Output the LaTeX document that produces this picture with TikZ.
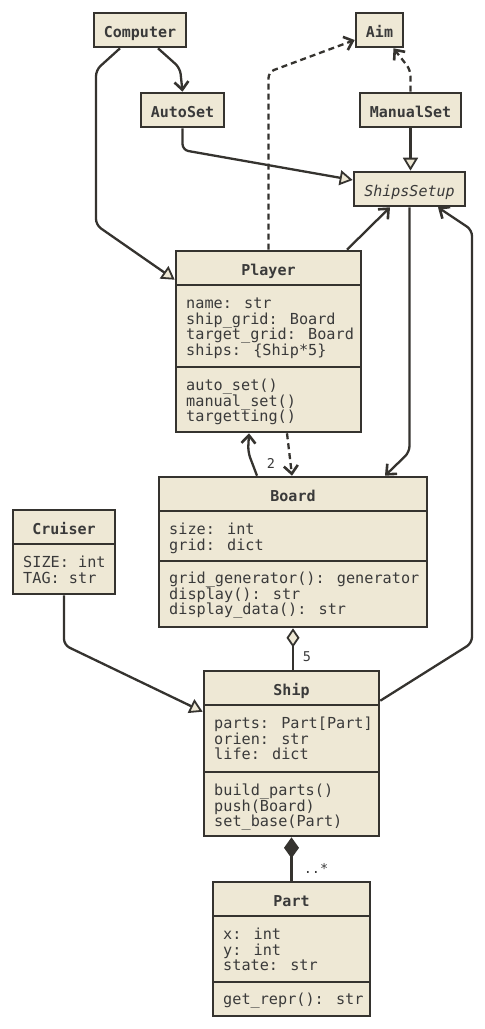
\documentclass[tikz,border=0pt]{standalone}
\usepackage{fontspec}
\usetikzlibrary{arrows.meta,calc}
\newfontfamily\umono{DejaVu Sans Mono}
\definecolor{fillc}{HTML}{EEE8D5}
\definecolor{linec}{HTML}{35332F}
\definecolor{textc}{HTML}{3A3A3A}
\tikzset{
  box/.style={draw=linec, fill=fillc, line width=2.6pt, inner sep=0pt},
  simple/.style={box, minimum height=34pt, text=textc, text height=14pt, text depth=0pt,
    font=\umono\fontsize{15}{15.8}\selectfont\bfseries},
  hdr/.style={anchor=base, inner sep=0pt, text=textc, font=\umono\fontsize{15}{15.8}\selectfont\bfseries},
  attr/.style={anchor=north west, inner sep=0pt, align=left, text=textc, font=\umono\fontsize{15.2}{15.8}\selectfont},
  sep/.style={draw=linec, line width=2.6pt},
  conn/.style={draw=linec, line width=2.3pt, rounded corners=6pt},
  dashconn/.style={conn, dash pattern=on 6pt off 4pt},
  stick/.style={-{Straight Barb[length=8pt,width=14pt,line width=2.6pt]}},
  inherit/.style={-{Triangle[open,fill=fillc,length=13pt,width=15pt,line width=1.8pt]}},
  aggr/.style={{Diamond[open,fill=fillc,length=19pt,width=13pt,line width=1.8pt]}-},
  comp/.style={{Diamond[fill=linec,length=21pt,width=15pt]}-},
  mult/.style={inner sep=0pt, text=textc, font=\umono\fontsize{13.5}{15}\selectfont},
}
\begin{document}
\begin{tikzpicture}[x=1pt,y=-1pt]
\useasboundingbox (0,0) rectangle (485,1029);

% simple boxes
\node[simple, minimum width=92pt] (computer) at (140,30) {Computer};
\node[simple, minimum width=47pt] (aim) at (379.5,30) {Aim};
\node[simple, minimum width=83pt] (autoset) at (182.5,110) {AutoSet};
\node[simple, minimum width=101pt] (manualset) at (410.5,110) {ManualSet};
\node[simple, minimum width=111pt, font=\umono\fontsize{15}{15.8}\selectfont\itshape] (shipssetup) at (409.5,189) {ShipsSetup};

% Player
\node[box, minimum width=185pt, minimum height=181pt] (player) at (268.5,341.5) {};
\draw[sep] (176,285) -- (361,285);
\draw[sep] (176,367) -- (361,367);
\node[hdr] (playerhdr) at (268.5,275) {Player};
\node[attr] (playerattr) at (186,296) {\rule{0pt}{12pt}name: str\\ship\_grid: Board\\target\_grid: Board\\ships: \{Ship*5\}};
\node[attr] (playermeth) at (186,378) {\rule{0pt}{12pt}auto\_set()\\manual\_set()\\targetting()};

% Board
\node[box, minimum width=268pt, minimum height=150pt] (board) at (293,552) {};
\draw[sep] (159,511) -- (427,511);
\draw[sep] (159,561) -- (427,561);
\node[hdr] (boardhdr) at (293,501) {Board};
\node[attr] (boardattr) at (169,522) {\rule{0pt}{12pt}size: int\\grid: dict};
\node[attr] (boardmeth) at (169,571) {\rule{0pt}{12pt}grid\_generator(): generator\\display(): str\\display\_data(): str};

% Cruiser
\node[box, minimum width=102pt, minimum height=84pt] (cruiser) at (64,552) {};
\draw[sep] (13,544) -- (115,544);
\node[hdr] (cruiserhdr) at (64,534) {Cruiser};
\node[attr] (cruiserattr) at (23,555) {\rule{0pt}{12pt}SIZE: int\\TAG: str};

% Ship
\node[box, minimum width=175pt, minimum height=165pt] (ship) at (291.5,753.5) {};
\draw[sep] (204,705) -- (379,705);
\draw[sep] (204,772) -- (379,772);
\node[hdr] (shiphdr) at (291.5,695) {Ship};
\node[attr] (shipattr) at (214,716) {\rule{0pt}{12pt}parts: Part[Part]\\orien: str\\life: dict};
\node[attr] (shipmeth) at (214,783) {\rule{0pt}{12pt}build\_parts()\\push(Board)\\set\_base(Part)};

% Part
\node[box, minimum width=157pt, minimum height=134pt] (part) at (291.5,949) {};
\draw[sep] (213,916) -- (370,916);
\draw[sep] (213,982) -- (370,982);
\node[hdr] (parthdr) at (291.5,906) {Part};
\node[attr] (partattr) at (223,927) {\rule{0pt}{12pt}x: int\\y: int\\state: str};
\node[attr] (partmeth) at (223,992) {\rule{0pt}{12pt}get\_repr(): str};

% connectors
\draw[conn, stick] ([xshift=18pt]computer.south) -- (180,68) -- (autoset.north);
\draw[conn, inherit] ([xshift=-20pt]computer.south) -- (96,70) -- (96,225) -- ([yshift=-30pt]player.north west);
\draw[conn, inherit] (autoset.south) -- (182.5,150) -- ([yshift=9pt]shipssetup.west);
\draw[conn, inherit] (manualset.south) -- (manualset.south |- shipssetup.north);
\draw[dashconn, stick] (manualset.north) -- (410.5,70) -- ([xshift=14pt]aim.south);
\draw[dashconn, stick] (player.north) -- (268.5,72) -- ([yshift=-10pt]aim.west);
\draw[conn, stick] ([xshift=78.5pt]player.north) -- ([xshift=-19.5pt]shipssetup.south);
\draw[conn, stick] (shipssetup.south) -- (409.5,452) -- ([xshift=92pt]board.north);
\draw[conn, stick] ([yshift=-31pt]ship.north east) -- (472,643) -- (472,230) -- ([xshift=28.5pt]shipssetup.south);
\draw[conn, stick] ([xshift=-36pt]board.north) -- (248,452) -- ([xshift=-19.5pt]player.south);
\draw[dashconn, stick] ([xshift=18.5pt]player.south) -- ([xshift=-1pt]board.north);
\draw[conn, aggr] (board.south) -- (board.south |- ship.north);
\draw[conn, comp] (ship.south) -- (part.north);
\draw[conn, inherit] (cruiser.south) -- (64,645) -- ([yshift=-42pt]ship.north west);

% multiplicities
\node[mult] (m2) at (271,463) {2};
\node[mult] (m5) at (307,657) {5};
\node[mult] (mstar) at (316,868) {..*};
\end{tikzpicture}
\end{document}
